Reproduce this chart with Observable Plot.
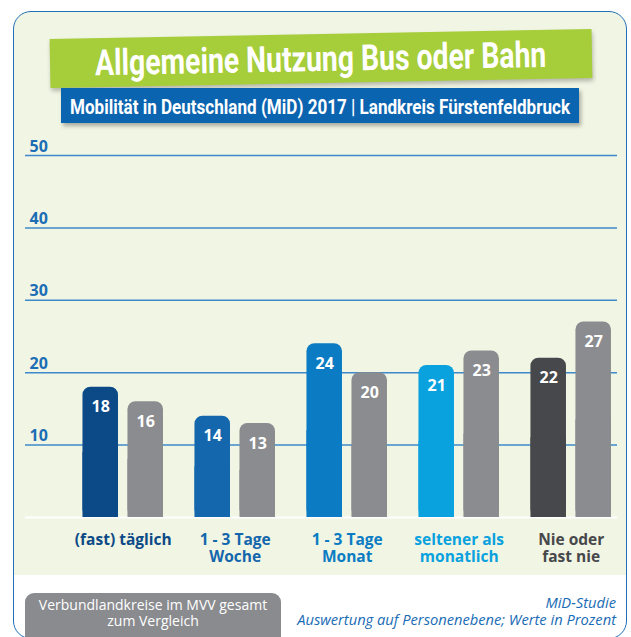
<!DOCTYPE html>
<html><head><meta charset="utf-8">
<script src="https://cdn.jsdelivr.net/npm/d3@7"></script>
<script src="https://cdn.jsdelivr.net/npm/@observablehq/plot@0.6"></script>
<style>
html,body{margin:0;padding:0;background:#fff;}
#wrap{position:relative;width:631px;height:637px;overflow:hidden;font-family:"Open Sans",sans-serif;}
#frame{position:absolute;left:13px;top:11px;width:614px;height:628px;box-sizing:border-box;border:1.5px solid #1f6fb6;border-radius:18px;background:linear-gradient(to bottom,#f1f5e3 0,#f1f5e3 563px,#fff 563px);}
#chart{position:absolute;left:0;top:0;}
#banner{position:absolute;left:50px;top:34px;width:542px;height:49px;background:#a6cd3a;transform:rotate(-1.05deg);box-shadow:1px 3px 4px rgba(0,0,0,0.25);display:flex;align-items:center;justify-content:center;}
#banner span{font-family:Roboto,sans-serif;font-weight:700;font-size:36px;color:#fff;white-space:nowrap;display:inline-block;}
#sub{position:absolute;left:61px;top:88px;width:518px;height:35px;background:#0b64b0;box-shadow:2px 3px 4px rgba(0,0,0,0.3);display:flex;align-items:center;justify-content:center;}
#sub span{font-family:Roboto,sans-serif;font-weight:700;font-size:20px;color:#fff;white-space:nowrap;display:inline-block;padding-top:2px;}
#gray{position:absolute;left:25px;top:593px;width:256px;height:60px;background:#8a8b8f;border-radius:9px 9px 0 0;color:#fff;font-size:14px;line-height:16px;text-align:center;padding-top:4px;box-sizing:border-box;}
#src{position:absolute;right:15px;top:594px;color:#1a6cb5;font-style:italic;font-size:14.7px;line-height:17px;text-align:right;white-space:nowrap;}
</style></head>
<body>
<div id="wrap">
  <div id="frame"></div>
  <div id="chart"></div>
  <div id="banner"><span id="t1">Allgemeine Nutzung Bus oder Bahn</span></div>
  <div id="sub"><span id="t2">Mobilität in Deutschland (MiD) 2017 | Landkreis Fürstenfeldbruck</span></div>
  <div id="gray">Verbundlandkreise im MVV gesamt<br>zum Vergleich</div>
  <div id="src">MiD-Studie<br>Auswertung auf Personenebene; Werte in Prozent</div>
</div>
<script>
const categories = ["(fast) täglich", "1 - 3 Tage\nWoche", "1 - 3 Tage\nMonat", "seltener als\nmonatlich", "Nie oder\nfast nie"];
const landkreisValues = [18, 14, 24, 21, 22];
const mvvValues = [16, 13, 20, 23, 27];
const yTicks = [10, 20, 30, 40, 50];

const catColors = ["#0b4a87", "#1466ad", "#0b7cc4", "#0aa1df", "#47484b"];
const grayBar = "#8b8c90";
const blueText = "#1b6db5";

const lk = categories.map((c, i) => ({cat: c, value: landkreisValues[i]}));
const mv = categories.map((c, i) => ({cat: c, value: mvvValues[i]}));

const chart = Plot.plot({
  width: 631,
  height: 637,
  marginTop: 155,
  marginBottom: 120,
  marginLeft: 25,
  marginRight: 14,
  style: {background: "transparent", fontFamily: "'Open Sans', sans-serif", overflow: "visible"},
  x: {domain: categories, axis: null, paddingInner: 0.281, paddingOuter: 0.2835, align: 0.905, round: false},
  y: {domain: [0, 50], axis: null},
  color: {domain: categories, range: catColors},
  marks: [
    Plot.ruleY(yTicks, {y: d => d, stroke: "#3d89cb", strokeWidth: 1.5}),
    Plot.ruleY([0], {stroke: "#ffffff", strokeWidth: 2}),
    Plot.text(yTicks, {y: d => d, text: d => String(d), frameAnchor: "left", textAnchor: "start", dx: 4, dy: -9, fill: blueText, fontSize: 16, fontWeight: 700}),
    Plot.barY(lk, {x: "cat", y: "value", fill: "cat", rx: 8, insetRight: 45}),
    Plot.barY(lk, {x: "cat", y1: 0, y2: d => d.value / 2, fill: "cat", insetRight: 45}),
    Plot.barY(mv, {x: "cat", y: "value", fill: grayBar, rx: 8, insetLeft: 45}),
    Plot.barY(mv, {x: "cat", y1: 0, y2: d => d.value / 2, fill: grayBar, insetLeft: 45}),
    Plot.text(lk, {x: "cat", y: "value", text: d => String(d.value), dx: -22.5, dy: 20, fill: "#ffffff", fontSize: 16, fontWeight: 700}),
    Plot.text(mv, {x: "cat", y: "value", text: d => String(d.value), dx: 22.5, dy: 20, fill: "#ffffff", fontSize: 16, fontWeight: 700}),
    Plot.text(lk, {x: "cat", text: "cat", frameAnchor: "bottom", lineAnchor: "top", dy: 15, fill: "cat", fontSize: 15.5, fontWeight: 700, lineHeight: 1.12})
  ]
});
document.getElementById("chart").appendChild(chart);

function fit(id, target) {
  const el = document.getElementById(id);
  const w = el.offsetWidth;
  el.style.transform = "scaleX(" + (target / w) + ")";
}
fit("t1", 451);
fit("t2", 500);
</script>
</body></html>
